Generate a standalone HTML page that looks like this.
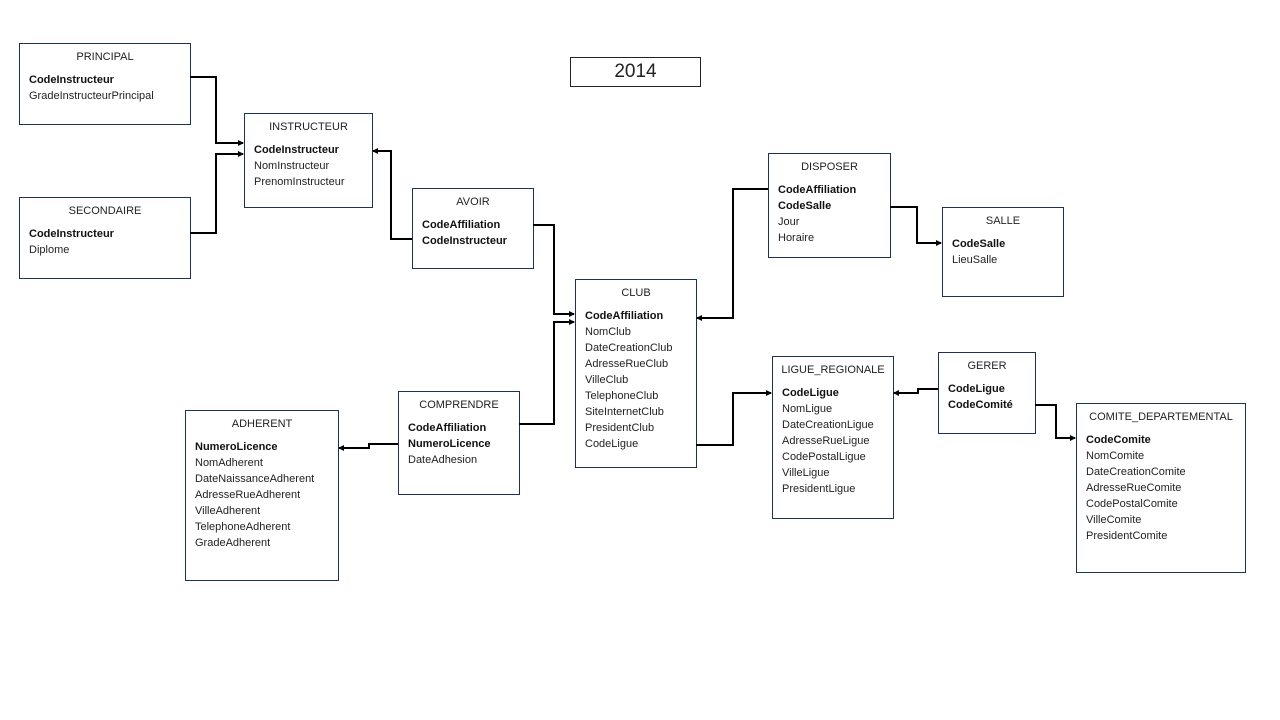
<!DOCTYPE html>
<html><head><meta charset="utf-8"><style>
body{margin:0;width:1280px;height:720px;background:#fff;position:relative;overflow:hidden;font-family:"Liberation Sans",sans-serif;font-size:11px;color:#222}
.b{position:absolute;border:1px solid #1f3251;box-sizing:border-box;background:#fff}
.t{position:absolute;left:0;right:0;top:5px;text-align:center;line-height:16px}
.a{position:absolute;left:9px;top:28px;line-height:16px;white-space:nowrap}
.a b{font-weight:bold;color:#111}
svg{position:absolute;left:0;top:0}
</style></head><body>
<div class="b" style="left:570px;top:57px;width:131px;height:30px;border-color:#222;font-size:19px;text-align:center;line-height:28px">2014</div>

<div class="b" style="left:19px;top:43px;width:172px;height:82px"><div class="t">PRINCIPAL</div><div class="a"><b>CodeInstructeur</b><br>GradeInstructeurPrincipal</div></div>
<div class="b" style="left:244px;top:113px;width:129px;height:95px"><div class="t">INSTRUCTEUR</div><div class="a"><b>CodeInstructeur</b><br>NomInstructeur<br>PrenomInstructeur</div></div>
<div class="b" style="left:19px;top:197px;width:172px;height:82px"><div class="t">SECONDAIRE</div><div class="a"><b>CodeInstructeur</b><br>Diplome</div></div>
<div class="b" style="left:412px;top:188px;width:122px;height:81px"><div class="t">AVOIR</div><div class="a"><b>CodeAffiliation</b><br><b>CodeInstructeur</b></div></div>
<div class="b" style="left:575px;top:279px;width:122px;height:189px"><div class="t">CLUB</div><div class="a"><b>CodeAffiliation</b><br>NomClub<br>DateCreationClub<br>AdresseRueClub<br>VilleClub<br>TelephoneClub<br>SiteInternetClub<br>PresidentClub<br>CodeLigue</div></div>
<div class="b" style="left:768px;top:153px;width:123px;height:105px"><div class="t">DISPOSER</div><div class="a"><b>CodeAffiliation</b><br><b>CodeSalle</b><br>Jour<br>Horaire</div></div>
<div class="b" style="left:942px;top:207px;width:122px;height:90px"><div class="t">SALLE</div><div class="a"><b>CodeSalle</b><br>LieuSalle</div></div>
<div class="b" style="left:772px;top:356px;width:122px;height:163px"><div class="t">LIGUE_REGIONALE</div><div class="a"><b>CodeLigue</b><br>NomLigue<br>DateCreationLigue<br>AdresseRueLigue<br>CodePostalLigue<br>VilleLigue<br>PresidentLigue</div></div>
<div class="b" style="left:938px;top:352px;width:98px;height:82px"><div class="t">GERER</div><div class="a"><b>CodeLigue</b><br><b>CodeComité</b></div></div>
<div class="b" style="left:1076px;top:403px;width:170px;height:170px"><div class="t">COMITE_DEPARTEMENTAL</div><div class="a"><b>CodeComite</b><br>NomComite<br>DateCreationComite<br>AdresseRueComite<br>CodePostalComite<br>VilleComite<br>PresidentComite</div></div>
<div class="b" style="left:398px;top:391px;width:122px;height:104px"><div class="t">COMPRENDRE</div><div class="a"><b>CodeAffiliation</b><br><b>NumeroLicence</b><br>DateAdhesion</div></div>
<div class="b" style="left:185px;top:410px;width:154px;height:171px"><div class="t">ADHERENT</div><div class="a"><b>NumeroLicence</b><br>NomAdherent<br>DateNaissanceAdherent<br>AdresseRueAdherent<br>VilleAdherent<br>TelephoneAdherent<br>GradeAdherent</div></div>

<svg width="1280" height="720">
<defs><marker id="m" markerWidth="6" markerHeight="6" refX="5" refY="3" orient="auto" markerUnits="userSpaceOnUse"><path d="M0,0L6,3L0,6z" fill="#000"/></marker></defs>
<g fill="none" stroke="#000" stroke-width="2" marker-end="url(#m)">
<polyline points="190,77 216,77 216,143 243,143"/>
<polyline points="190,233 216,233 216,154 243,154"/>
<polyline points="412,239 391,239 391,151 373,151"/>
<polyline points="533,225 554,225 554,314 574,314"/>
<polyline points="519,424 554,424 554,322 574,322"/>
<polyline points="398,444 369,444 369,448 339,448"/>
<polyline points="768,189 733,189 733,318 697,318"/>
<polyline points="890,207 917,207 917,243 941,243"/>
<polyline points="696,445 733,445 733,393 771,393"/>
<polyline points="938,389 918,389 918,393 894,393"/>
<polyline points="1035,405 1056,405 1056,438 1075,438"/>
</g></svg>
</body></html>
